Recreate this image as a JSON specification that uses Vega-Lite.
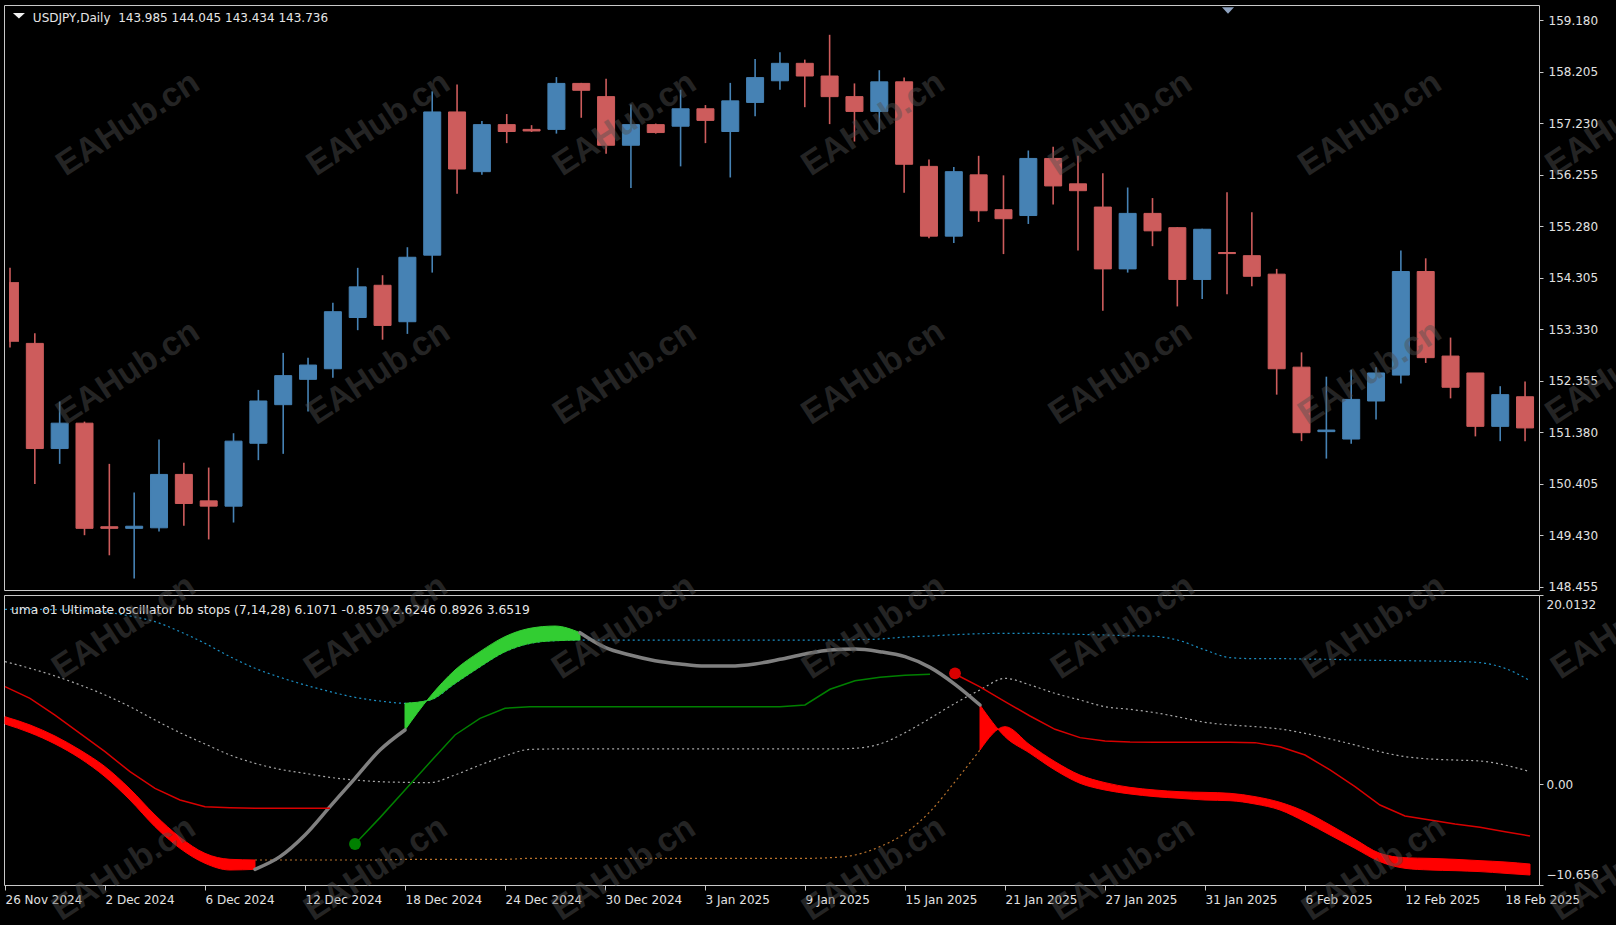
{
  "$schema": "https://vega.github.io/schema/vega-lite/v6.json",
  "background": "#000000",
  "padding": {"left": 1, "top": 4, "right": 0, "bottom": 0},
  "bounds": "flush",
  "spacing": 5,
  "datasets": {
    "candles": [
      {"i":0,"d":"2024-11-26","o":154.22,"h":154.49,"l":152.98,"c":153.09},
      {"i":1,"d":"2024-11-27","o":153.06,"h":153.25,"l":150.40,"c":151.07},
      {"i":2,"d":"2024-11-28","o":151.07,"h":151.96,"l":150.78,"c":151.55},
      {"i":3,"d":"2024-11-29","o":151.55,"h":151.58,"l":149.43,"c":149.56},
      {"i":4,"d":"2024-12-02","o":149.59,"h":150.78,"l":149.05,"c":149.56},
      {"i":5,"d":"2024-12-03","o":149.56,"h":150.24,"l":148.61,"c":149.60},
      {"i":6,"d":"2024-12-04","o":149.57,"h":151.24,"l":149.50,"c":150.58},
      {"i":7,"d":"2024-12-05","o":150.58,"h":150.80,"l":149.61,"c":150.03},
      {"i":8,"d":"2024-12-06","o":150.08,"h":150.71,"l":149.35,"c":149.98},
      {"i":9,"d":"2024-12-09","o":149.98,"h":151.36,"l":149.67,"c":151.21},
      {"i":10,"d":"2024-12-10","o":151.17,"h":152.18,"l":150.85,"c":151.97},
      {"i":11,"d":"2024-12-11","o":151.90,"h":152.88,"l":150.97,"c":152.45},
      {"i":12,"d":"2024-12-12","o":152.38,"h":152.79,"l":151.77,"c":152.65},
      {"i":13,"d":"2024-12-13","o":152.58,"h":153.83,"l":152.41,"c":153.66},
      {"i":14,"d":"2024-12-16","o":153.55,"h":154.49,"l":153.31,"c":154.13},
      {"i":15,"d":"2024-12-17","o":154.16,"h":154.35,"l":153.13,"c":153.40},
      {"i":16,"d":"2024-12-18","o":153.47,"h":154.88,"l":153.24,"c":154.69},
      {"i":17,"d":"2024-12-19","o":154.73,"h":157.83,"l":154.40,"c":157.44},
      {"i":18,"d":"2024-12-20","o":157.44,"h":157.96,"l":155.89,"c":156.36},
      {"i":19,"d":"2024-12-23","o":156.31,"h":157.27,"l":156.25,"c":157.20},
      {"i":20,"d":"2024-12-24","o":157.20,"h":157.40,"l":156.85,"c":157.07},
      {"i":21,"d":"2024-12-25","o":157.11,"h":157.19,"l":157.06,"c":157.08},
      {"i":22,"d":"2024-12-26","o":157.11,"h":158.10,"l":157.03,"c":157.98},
      {"i":23,"d":"2024-12-27","o":157.98,"h":157.99,"l":157.33,"c":157.85},
      {"i":24,"d":"2024-12-30","o":157.73,"h":158.07,"l":156.65,"c":156.81},
      {"i":25,"d":"2024-12-31","o":156.81,"h":157.58,"l":156.00,"c":157.20},
      {"i":26,"d":"2025-01-01","o":157.20,"h":157.22,"l":157.03,"c":157.05},
      {"i":27,"d":"2025-01-02","o":157.17,"h":157.86,"l":156.41,"c":157.50},
      {"i":28,"d":"2025-01-03","o":157.50,"h":157.57,"l":156.85,"c":157.28},
      {"i":29,"d":"2025-01-06","o":157.07,"h":157.99,"l":156.20,"c":157.65},
      {"i":30,"d":"2025-01-07","o":157.62,"h":158.44,"l":157.36,"c":158.09},
      {"i":31,"d":"2025-01-08","o":158.03,"h":158.57,"l":157.86,"c":158.36},
      {"i":32,"d":"2025-01-09","o":158.36,"h":158.43,"l":157.53,"c":158.12},
      {"i":33,"d":"2025-01-10","o":158.12,"h":158.90,"l":157.21,"c":157.73},
      {"i":34,"d":"2025-01-13","o":157.73,"h":157.98,"l":156.88,"c":157.45},
      {"i":35,"d":"2025-01-14","o":157.45,"h":158.23,"l":157.06,"c":158.01},
      {"i":36,"d":"2025-01-15","o":158.01,"h":158.09,"l":155.91,"c":156.45},
      {"i":37,"d":"2025-01-16","o":156.41,"h":156.54,"l":155.05,"c":155.09},
      {"i":38,"d":"2025-01-17","o":155.09,"h":156.40,"l":154.96,"c":156.31},
      {"i":39,"d":"2025-01-20","o":156.25,"h":156.61,"l":155.36,"c":155.57},
      {"i":40,"d":"2025-01-21","o":155.59,"h":156.24,"l":154.75,"c":155.42},
      {"i":41,"d":"2025-01-22","o":155.48,"h":156.71,"l":155.32,"c":156.56},
      {"i":42,"d":"2025-01-23","o":156.56,"h":156.78,"l":155.69,"c":156.04},
      {"i":43,"d":"2025-01-24","o":156.08,"h":156.61,"l":154.82,"c":155.95},
      {"i":44,"d":"2025-01-27","o":155.64,"h":156.28,"l":153.68,"c":154.47},
      {"i":45,"d":"2025-01-28","o":154.47,"h":156.01,"l":154.40,"c":155.52},
      {"i":46,"d":"2025-01-29","o":155.52,"h":155.81,"l":154.90,"c":155.19},
      {"i":47,"d":"2025-01-30","o":155.25,"h":155.26,"l":153.76,"c":154.27},
      {"i":48,"d":"2025-01-31","o":154.27,"h":155.23,"l":153.90,"c":155.22},
      {"i":49,"d":"2025-02-03","o":154.78,"h":155.92,"l":153.99,"c":154.76},
      {"i":50,"d":"2025-02-04","o":154.72,"h":155.54,"l":154.14,"c":154.33},
      {"i":51,"d":"2025-02-05","o":154.37,"h":154.47,"l":152.09,"c":152.58},
      {"i":52,"d":"2025-02-06","o":152.61,"h":152.89,"l":151.21,"c":151.37},
      {"i":53,"d":"2025-02-07","o":151.39,"h":152.43,"l":150.88,"c":151.42},
      {"i":54,"d":"2025-02-10","o":151.25,"h":152.56,"l":151.16,"c":152.00},
      {"i":55,"d":"2025-02-11","o":151.97,"h":152.61,"l":151.62,"c":152.50},
      {"i":56,"d":"2025-02-12","o":152.46,"h":154.82,"l":152.30,"c":154.42},
      {"i":57,"d":"2025-02-13","o":154.42,"h":154.67,"l":152.69,"c":152.79},
      {"i":58,"d":"2025-02-14","o":152.82,"h":153.17,"l":152.02,"c":152.23},
      {"i":59,"d":"2025-02-17","o":152.50,"h":152.50,"l":151.30,"c":151.49},
      {"i":60,"d":"2025-02-18","o":151.49,"h":152.25,"l":151.21,"c":152.09},
      {"i":61,"d":"2025-02-19","o":152.05,"h":152.34,"l":151.21,"c":151.46}
    ],
    "osc": [
      {"i":0,"m":6.37,"u":18.50,"md":12.96,"lo":7.14},
      {"i":1,"m":5.45,"u":18.50,"md":12.26,"lo":6.27},
      {"i":2,"m":4.26,"u":18.46,"md":11.45,"lo":5.10},
      {"i":3,"m":2.74,"u":18.36,"md":10.50,"lo":3.62},
      {"i":4,"m":0.80,"u":18.22,"md":9.44,"lo":1.86},
      {"i":5,"m":-1.67,"u":17.79,"md":8.20,"lo":-0.50},
      {"i":6,"m":-4.49,"u":17.19,"md":6.79,"lo":-3.25},
      {"i":7,"m":-6.78,"u":16.14,"md":5.45,"lo":-5.61},
      {"i":8,"m":-8.36,"u":14.90,"md":4.26,"lo":-7.31},
      {"i":9,"m":-9.07,"u":13.49,"md":3.09,"lo":-7.94},
      {"i":10,"m":-9.00,"u":12.26,"md":2.21,"lo":-8.01},
      {"i":11,"m":-7.66,"u":11.31,"md":1.58,"lo":-8.01},
      {"i":12,"m":-5.37,"u":10.50,"md":1.15,"lo":-8.01},
      {"i":13,"m":-2.37,"u":9.79,"md":0.73,"lo":-8.01},
      {"i":14,"m":0.63,"u":9.19,"md":0.45,"lo":-8.01},
      {"i":15,"m":3.62,"u":8.80,"md":0.27,"lo":-8.01},
      {"i":16,"m":5.74,"u":8.56,"md":0.20,"lo":-7.94},
      {"i":17,"m":9.26,"u":8.91,"md":0.17,"lo":-7.94},
      {"i":18,"m":12.08,"u":10.67,"md":0.98,"lo":-7.94},
      {"i":19,"m":14.02,"u":12.43,"md":2.03,"lo":-7.94},
      {"i":20,"m":15.61,"u":14.02,"md":2.99,"lo":-7.94},
      {"i":21,"m":16.49,"u":14.90,"md":3.69,"lo":-7.84},
      {"i":22,"m":16.73,"u":15.18,"md":3.73,"lo":-7.84},
      {"i":23,"m":16.03,"u":15.25,"md":3.73,"lo":-7.84},
      {"i":24,"m":14.48,"u":15.25,"md":3.73,"lo":-7.84},
      {"i":25,"m":13.67,"u":15.25,"md":3.73,"lo":-7.84},
      {"i":26,"m":13.07,"u":15.25,"md":3.73,"lo":-7.84},
      {"i":27,"m":12.72,"u":15.25,"md":3.73,"lo":-7.84},
      {"i":28,"m":12.50,"u":15.25,"md":3.73,"lo":-7.84},
      {"i":29,"m":12.50,"u":15.25,"md":3.73,"lo":-7.84},
      {"i":30,"m":12.72,"u":15.25,"md":3.73,"lo":-7.84},
      {"i":31,"m":13.21,"u":15.25,"md":3.73,"lo":-7.84},
      {"i":32,"m":13.77,"u":15.25,"md":3.73,"lo":-7.84},
      {"i":33,"m":14.20,"u":15.25,"md":3.73,"lo":-7.77},
      {"i":34,"m":14.30,"u":15.29,"md":3.80,"lo":-7.48},
      {"i":35,"m":14.02,"u":15.36,"md":4.26,"lo":-6.60},
      {"i":36,"m":13.49,"u":15.57,"md":5.45,"lo":-5.19},
      {"i":37,"m":12.36,"u":15.68,"md":6.97,"lo":-2.90},
      {"i":38,"m":10.57,"u":15.82,"md":8.56,"lo":0.27},
      {"i":39,"m":8.38,"u":15.92,"md":9.97,"lo":3.62},
      {"i":40,"m":5.03,"u":15.96,"md":11.20,"lo":6.09},
      {"i":41,"m":3.27,"u":15.96,"md":10.50,"lo":4.15},
      {"i":42,"m":1.50,"u":15.92,"md":9.61,"lo":2.39},
      {"i":43,"m":0.10,"u":15.85,"md":8.91,"lo":0.97},
      {"i":44,"m":-0.61,"u":15.78,"md":8.20,"lo":0.17},
      {"i":45,"m":-1.03,"u":15.71,"md":7.92,"lo":-0.33},
      {"i":46,"m":-1.31,"u":15.64,"md":7.57,"lo":-0.61},
      {"i":47,"m":-1.49,"u":15.18,"md":7.08,"lo":-0.79},
      {"i":48,"m":-1.67,"u":14.20,"md":6.55,"lo":-0.86},
      {"i":49,"m":-1.74,"u":13.39,"md":6.27,"lo":-0.96},
      {"i":50,"m":-2.09,"u":13.28,"md":6.09,"lo":-1.31},
      {"i":51,"m":-2.72,"u":13.28,"md":5.84,"lo":-1.91},
      {"i":52,"m":-3.96,"u":13.24,"md":5.38,"lo":-2.90},
      {"i":53,"m":-5.37,"u":13.21,"md":4.79,"lo":-4.31},
      {"i":54,"m":-6.78,"u":13.14,"md":4.15,"lo":-5.83},
      {"i":55,"m":-8.19,"u":13.10,"md":3.44,"lo":-7.31},
      {"i":56,"m":-8.89,"u":13.07,"md":2.92,"lo":-7.77},
      {"i":57,"m":-9.07,"u":13.03,"md":2.67,"lo":-7.84},
      {"i":58,"m":-9.14,"u":12.99,"md":2.56,"lo":-7.94},
      {"i":59,"m":-9.24,"u":12.86,"md":2.46,"lo":-8.08},
      {"i":60,"m":-9.42,"u":12.26,"md":2.03,"lo":-8.22},
      {"i":61,"m":-9.60,"u":10.95,"md":1.33,"lo":-8.44}
    ],
    "stops": [
      {"i":0,"v":10.32,"kind":"down","seg":"a"},
      {"i":1,"v":9.09,"kind":"down","seg":"a"},
      {"i":2,"v":7.32,"kind":"down","seg":"a"},
      {"i":3,"v":5.38,"kind":"down","seg":"a"},
      {"i":4,"v":3.44,"kind":"down","seg":"a"},
      {"i":5,"v":1.33,"kind":"down","seg":"a"},
      {"i":6,"v":-0.43,"kind":"down","seg":"a"},
      {"i":7,"v":-1.67,"kind":"down","seg":"a"},
      {"i":8,"v":-2.37,"kind":"down","seg":"a"},
      {"i":9,"v":-2.48,"kind":"down","seg":"a"},
      {"i":10,"v":-2.55,"kind":"down","seg":"a"},
      {"i":11,"v":-2.55,"kind":"down","seg":"a"},
      {"i":12,"v":-2.55,"kind":"down","seg":"a"},
      {"i":13,"v":-2.55,"kind":"down","seg":"a"},
      {"i":14,"v":-6.32,"kind":"up","seg":"b"},
      {"i":15,"v":-3.53,"kind":"up","seg":"b"},
      {"i":16,"v":-0.61,"kind":"up","seg":"b"},
      {"i":17,"v":2.32,"kind":"up","seg":"b"},
      {"i":18,"v":5.21,"kind":"up","seg":"b"},
      {"i":19,"v":6.97,"kind":"up","seg":"b"},
      {"i":20,"v":8.03,"kind":"up","seg":"b"},
      {"i":21,"v":8.20,"kind":"up","seg":"b"},
      {"i":22,"v":8.20,"kind":"up","seg":"b"},
      {"i":23,"v":8.20,"kind":"up","seg":"b"},
      {"i":24,"v":8.20,"kind":"up","seg":"b"},
      {"i":25,"v":8.20,"kind":"up","seg":"b"},
      {"i":26,"v":8.20,"kind":"up","seg":"b"},
      {"i":27,"v":8.20,"kind":"up","seg":"b"},
      {"i":28,"v":8.20,"kind":"up","seg":"b"},
      {"i":29,"v":8.20,"kind":"up","seg":"b"},
      {"i":30,"v":8.20,"kind":"up","seg":"b"},
      {"i":31,"v":8.20,"kind":"up","seg":"b"},
      {"i":32,"v":8.38,"kind":"up","seg":"b"},
      {"i":33,"v":10.04,"kind":"up","seg":"b"},
      {"i":34,"v":10.95,"kind":"up","seg":"b"},
      {"i":35,"v":11.31,"kind":"up","seg":"b"},
      {"i":36,"v":11.52,"kind":"up","seg":"b"},
      {"i":37,"v":11.62,"kind":"up","seg":"b"},
      {"i":38,"v":11.66,"kind":"down","seg":"c"},
      {"i":39,"v":10.30,"kind":"down","seg":"c"},
      {"i":40,"v":8.73,"kind":"down","seg":"c"},
      {"i":41,"v":7.22,"kind":"down","seg":"c"},
      {"i":42,"v":5.81,"kind":"down","seg":"c"},
      {"i":43,"v":4.93,"kind":"down","seg":"c"},
      {"i":44,"v":4.57,"kind":"down","seg":"c"},
      {"i":45,"v":4.47,"kind":"down","seg":"c"},
      {"i":46,"v":4.43,"kind":"down","seg":"c"},
      {"i":47,"v":4.43,"kind":"down","seg":"c"},
      {"i":48,"v":4.43,"kind":"down","seg":"c"},
      {"i":49,"v":4.43,"kind":"down","seg":"c"},
      {"i":50,"v":4.40,"kind":"down","seg":"c"},
      {"i":51,"v":3.97,"kind":"down","seg":"c"},
      {"i":52,"v":3.09,"kind":"down","seg":"c"},
      {"i":53,"v":1.51,"kind":"down","seg":"c"},
      {"i":54,"v":-0.26,"kind":"down","seg":"c"},
      {"i":55,"v":-2.20,"kind":"down","seg":"c"},
      {"i":56,"v":-3.36,"kind":"down","seg":"c"},
      {"i":57,"v":-3.78,"kind":"down","seg":"c"},
      {"i":58,"v":-4.21,"kind":"down","seg":"c"},
      {"i":59,"v":-4.56,"kind":"down","seg":"c"},
      {"i":60,"v":-5.02,"kind":"down","seg":"c"},
      {"i":61,"v":-5.47,"kind":"down","seg":"c"}
    ],
    "dots": [
      {"i":14,"v":-6.32,"kind":"up"},
      {"i":38,"v":11.73,"kind":"down"}
    ],
    "wmTop": [
      {"i":4.76,"p":157.21},{"i":14.84,"p":157.21},{"i":24.76,"p":157.21},{"i":34.76,"p":157.21},{"i":44.72,"p":157.21},{"i":54.76,"p":157.21},{"i":64.72,"p":157.21},
      {"i":4.76,"p":152.5},{"i":14.84,"p":152.5},{"i":24.76,"p":152.5},{"i":34.76,"p":152.5},{"i":44.72,"p":152.5},{"i":54.76,"p":152.5},{"i":64.72,"p":152.5}
    ],
    "wmBot": [
      {"i":4.76,"v":16.6},{"i":14.84,"v":16.6},{"i":24.76,"v":16.6},{"i":34.76,"v":16.6},{"i":44.72,"v":16.6},{"i":54.76,"v":16.6},{"i":64.72,"v":16.6},
      {"i":4.76,"v":-8.96},{"i":14.84,"v":-8.96},{"i":24.76,"v":-8.96},{"i":34.76,"v":-8.96},{"i":44.72,"v":-8.96},{"i":54.76,"v":-8.96},{"i":64.72,"v":-8.96}
    ]
  },
  "vconcat": [
    {
      "width": 1535,
      "height": 585,
      "layer": [
        {
          "data": {"name": "candles"},
          "mark": {"type": "rule", "strokeWidth": 1.6},
          "encoding": {
            "x": {"field": "i", "type": "quantitative", "title": null, "scale": {"domain": [-0.04, 61.36], "nice": false, "zero": false},
                  "axis": {"labels": false, "ticks": false, "domain": false, "grid": false, "title": null}},
            "y": {"field": "l", "type": "quantitative", "title": null, "scale": {"domain": [148.393, 159.464], "nice": false, "zero": false},
                  "axis": {"orient": "right", "values": [148.455, 149.43, 150.405, 151.38, 152.355, 153.33, 154.305, 155.28, 156.255, 157.23, 158.205, 159.18], "format": ".3f", "title": null, "grid": false, "domain": false, "tickSize": 4, "tickColor": "#c8c8c8", "labelPadding": 5, "labelColor": "#e2e2e2", "labelFont": "DejaVu Sans", "labelFontSize": 12}},
            "y2": {"field": "h"},
            "color": {"condition": {"test": "datum.c < datum.o", "value": "#CD5C5C"}, "value": "#4682B4"}
          }
        },
        {
          "data": {"name": "candles"},
          "transform": [{"filter": {"field": "i", "gte": 1}}],
          "mark": {"type": "bar", "size": 17, "strokeWidth": 1},
          "encoding": {
            "x": {"field": "i", "type": "quantitative", "title": null, "scale": {"domain": [-0.04, 61.36], "nice": false, "zero": false}},
            "y": {"field": "o", "type": "quantitative", "title": null, "scale": {"domain": [148.393, 159.464], "nice": false, "zero": false}},
            "y2": {"field": "c"},
            "color": {"condition": {"test": "datum.c < datum.o", "value": "#CD5C5C"}, "value": "#4682B4"},
            "stroke": {"condition": {"test": "datum.c < datum.o", "value": "#CD5C5C"}, "value": "#4682B4"}
          }
        },
        {
          "data": {"name": "candles"},
          "transform": [{"filter": {"field": "i", "lt": 1}}],
          "mark": {"type": "bar", "color": "#CD5C5C"},
          "encoding": {
            "x": {"datum": -0.04, "type": "quantitative", "title": null, "scale": {"domain": [-0.04, 61.36], "nice": false, "zero": false}},
            "x2": {"datum": 0.36},
            "y": {"field": "o", "type": "quantitative", "title": null, "scale": {"domain": [148.393, 159.464], "nice": false, "zero": false}},
            "y2": {"field": "c"}
          }
        },
        {
          "data": {"values": [{}]},
          "mark": {"type": "point", "filled": true, "shape": "M-1,-0.45L1,-0.45L0,0.45Z", "size": 144, "color": "#f0f0f0", "opacity": 1},
          "encoding": {
            "x": {"datum": 0.36, "type": "quantitative", "title": null, "scale": {"domain": [-0.04, 61.36], "nice": false, "zero": false}},
            "y": {"datum": 159.26, "type": "quantitative", "title": null, "scale": {"domain": [148.393, 159.464], "nice": false, "zero": false}}
          }
        },
        {
          "data": {"values": [{}]},
          "mark": {"type": "text", "text": "USDJPY,Daily\u00a0 143.985 144.045 143.434 143.736", "align": "left", "baseline": "middle", "font": "DejaVu Sans", "fontSize": 12, "color": "#e6e6e6"},
          "encoding": {
            "x": {"datum": 0.92, "type": "quantitative", "title": null, "scale": {"domain": [-0.04, 61.36], "nice": false, "zero": false}},
            "y": {"datum": 159.218, "type": "quantitative", "title": null, "scale": {"domain": [148.393, 159.464], "nice": false, "zero": false}}
          }
        },
        {
          "data": {"values": [{}]},
          "mark": {"type": "point", "filled": true, "shape": "M-1,-0.55L1,-0.55L0,0.55Z", "size": 144, "color": "#8ea2bf", "opacity": 1},
          "encoding": {
            "x": {"datum": 49.04, "type": "quantitative", "title": null, "scale": {"domain": [-0.04, 61.36], "nice": false, "zero": false}},
            "y": {"datum": 159.36, "type": "quantitative", "title": null, "scale": {"domain": [148.393, 159.464], "nice": false, "zero": false}}
          }
        },
        {
          "data": {"name": "wmTop"},
          "mark": {"type": "text", "text": "EAHub.cn", "align": "center", "baseline": "middle", "angle": -33, "font": "Liberation Sans", "fontWeight": "bold", "fontSize": 34, "color": "#505050", "opacity": 0.45},
          "encoding": {
            "x": {"field": "i", "type": "quantitative", "title": null, "scale": {"domain": [-0.04, 61.36], "nice": false, "zero": false}},
            "y": {"field": "p", "type": "quantitative", "title": null, "scale": {"domain": [148.393, 159.464], "nice": false, "zero": false}}
          }
        }
      ]
    },
    {
      "width": 1535,
      "height": 290,
      "layer": [
        {
          "data": {"name": "osc"},
          "mark": {"type": "line", "color": "#1b8fc4", "strokeWidth": 1.2, "strokeDash": [2, 3], "interpolate": "monotone"},
          "encoding": {
            "x": {"field": "i", "type": "quantitative", "title": null, "scale": {"domain": [-0.04, 61.36], "nice": false, "zero": false},
                  "axis": {"orient": "bottom", "values": [0,4,8,12,16,20,24,28,32,36,40,44,48,52,56,60], "labelExpr": "['26 Nov 2024','2 Dec 2024','6 Dec 2024','12 Dec 2024','18 Dec 2024','24 Dec 2024','30 Dec 2024','3 Jan 2025','9 Jan 2025','15 Jan 2025','21 Jan 2025','27 Jan 2025','31 Jan 2025','6 Feb 2025','12 Feb 2025','18 Feb 2025'][datum.value/4]", "labelAlign": "left", "labelBaseline": "top", "labelPadding": 4, "labelDx": 0, "labelOverlap": false, "labelFlush": false, "title": null, "grid": false, "domain": false, "tickSize": 5, "tickColor": "#c8c8c8", "labelColor": "#e2e2e2", "labelFont": "DejaVu Sans", "labelFontSize": 12}},
            "y": {"field": "u", "type": "quantitative", "title": null, "scale": {"domain": [-10.656, 20.0132], "nice": false, "zero": false},
                  "axis": {"orient": "right", "values": [-10.656, 0, 20.0132], "labelExpr": "datum.value === 0 ? '0.00' : format(datum.value, '.4~f')", "labelFlush": true, "labelFlushOffset": -4, "title": null, "grid": false, "domain": false, "tickSize": 4, "tickColor": "#c8c8c8", "labelPadding": 3, "labelColor": "#e2e2e2", "labelFont": "DejaVu Sans", "labelFontSize": 12}}
          }
        },
        {
          "data": {"name": "osc"},
          "mark": {"type": "line", "color": "#a8a8a8", "strokeWidth": 1.2, "strokeDash": [2, 3], "interpolate": "monotone"},
          "encoding": {
            "x": {"field": "i", "type": "quantitative", "title": null, "scale": {"domain": [-0.04, 61.36], "nice": false, "zero": false}},
            "y": {"field": "md", "type": "quantitative", "title": null, "scale": {"domain": [-10.656, 20.0132], "nice": false, "zero": false}}
          }
        },
        {
          "data": {"name": "osc"},
          "transform": [{"filter": {"field": "i", "range": [10, 39]}}],
          "mark": {"type": "line", "color": "#b8722c", "strokeWidth": 1.2, "strokeDash": [2, 3], "interpolate": "monotone"},
          "encoding": {
            "x": {"field": "i", "type": "quantitative", "title": null, "scale": {"domain": [-0.04, 61.36], "nice": false, "zero": false}},
            "y": {"field": "lo", "type": "quantitative", "title": null, "scale": {"domain": [-10.656, 20.0132], "nice": false, "zero": false}}
          }
        },
        {
          "data": {"name": "osc"},
          "transform": [{"filter": {"field": "i", "range": [0, 10]}}],
          "mark": {"type": "area", "color": "#ff0000", "stroke": "#ff0000", "strokeWidth": 1, "interpolate": "monotone", "opacity": 1},
          "encoding": {
            "x": {"field": "i", "type": "quantitative", "title": null, "scale": {"domain": [-0.04, 61.36], "nice": false, "zero": false}},
            "y": {"field": "m", "type": "quantitative", "title": null, "scale": {"domain": [-10.656, 20.0132], "nice": false, "zero": false}},
            "y2": {"field": "lo"}
          }
        },
        {
          "data": {"name": "osc"},
          "transform": [{"filter": {"field": "i", "range": [39, 61]}}],
          "mark": {"type": "area", "color": "#ff0000", "stroke": "#ff0000", "strokeWidth": 1, "interpolate": "monotone", "opacity": 1},
          "encoding": {
            "x": {"field": "i", "type": "quantitative", "title": null, "scale": {"domain": [-0.04, 61.36], "nice": false, "zero": false}},
            "y": {"field": "m", "type": "quantitative", "title": null, "scale": {"domain": [-10.656, 20.0132], "nice": false, "zero": false}},
            "y2": {"field": "lo"}
          }
        },
        {
          "data": {"name": "osc"},
          "transform": [{"filter": {"field": "i", "range": [16, 23]}}],
          "mark": {"type": "area", "color": "#32cd32", "stroke": "#32cd32", "strokeWidth": 1, "interpolate": "monotone", "opacity": 1},
          "encoding": {
            "x": {"field": "i", "type": "quantitative", "title": null, "scale": {"domain": [-0.04, 61.36], "nice": false, "zero": false}},
            "y": {"field": "m", "type": "quantitative", "title": null, "scale": {"domain": [-10.656, 20.0132], "nice": false, "zero": false}},
            "y2": {"field": "u"}
          }
        },
        {
          "data": {"name": "osc"},
          "transform": [{"filter": {"field": "i", "range": [10, 16]}}],
          "mark": {"type": "line", "color": "#808080", "strokeWidth": 3.5, "strokeCap": "round", "interpolate": "monotone"},
          "encoding": {
            "x": {"field": "i", "type": "quantitative", "title": null, "scale": {"domain": [-0.04, 61.36], "nice": false, "zero": false}},
            "y": {"field": "m", "type": "quantitative", "title": null, "scale": {"domain": [-10.656, 20.0132], "nice": false, "zero": false}}
          }
        },
        {
          "data": {"name": "osc"},
          "transform": [{"filter": {"field": "i", "range": [23, 39]}}],
          "mark": {"type": "line", "color": "#808080", "strokeWidth": 3.5, "strokeCap": "round", "interpolate": "monotone"},
          "encoding": {
            "x": {"field": "i", "type": "quantitative", "title": null, "scale": {"domain": [-0.04, 61.36], "nice": false, "zero": false}},
            "y": {"field": "m", "type": "quantitative", "title": null, "scale": {"domain": [-10.656, 20.0132], "nice": false, "zero": false}}
          }
        },
        {
          "data": {"name": "stops"},
          "mark": {"type": "line", "strokeWidth": 1.5},
          "encoding": {
            "x": {"field": "i", "type": "quantitative", "title": null, "scale": {"domain": [-0.04, 61.36], "nice": false, "zero": false}},
            "y": {"field": "v", "type": "quantitative", "title": null, "scale": {"domain": [-10.656, 20.0132], "nice": false, "zero": false}},
            "detail": {"field": "seg"},
            "color": {"field": "kind", "type": "nominal", "scale": {"domain": ["up", "down"], "range": ["#008000", "#d80000"]}, "legend": null}
          }
        },
        {
          "data": {"name": "dots"},
          "mark": {"type": "point", "filled": true, "shape": "circle", "size": 140, "opacity": 1},
          "encoding": {
            "x": {"field": "i", "type": "quantitative", "title": null, "scale": {"domain": [-0.04, 61.36], "nice": false, "zero": false}},
            "y": {"field": "v", "type": "quantitative", "title": null, "scale": {"domain": [-10.656, 20.0132], "nice": false, "zero": false}},
            "color": {"field": "kind", "type": "nominal", "scale": {"domain": ["up", "down"], "range": ["#008000", "#ff0000"]}, "legend": null}
          }
        },
        {
          "data": {"values": [{}]},
          "mark": {"type": "text", "text": "uma o1 Ultimate oscillator bb stops (7,14,28) 6.1071 -0.8579 2.6246 0.8926 3.6519", "align": "left", "baseline": "middle", "font": "DejaVu Sans", "fontSize": 12.3, "color": "#e6e6e6"},
          "encoding": {
            "x": {"datum": 0.24, "type": "quantitative", "title": null, "scale": {"domain": [-0.04, 61.36], "nice": false, "zero": false}},
            "y": {"datum": 18.43, "type": "quantitative", "title": null, "scale": {"domain": [-10.656, 20.0132], "nice": false, "zero": false}}
          }
        },
        {
          "data": {"name": "wmBot"},
          "mark": {"type": "text", "text": "EAHub.cn", "align": "center", "baseline": "middle", "angle": -33, "font": "Liberation Sans", "fontWeight": "bold", "fontSize": 34, "color": "#505050", "opacity": 0.45},
          "encoding": {
            "x": {"field": "i", "type": "quantitative", "title": null, "scale": {"domain": [-0.04, 61.36], "nice": false, "zero": false}},
            "y": {"field": "v", "type": "quantitative", "title": null, "scale": {"domain": [-10.656, 20.0132], "nice": false, "zero": false}}
          }
        }
      ]
    }
  ],
  "config": {
    "view": {"stroke": "#c8c8c8", "strokeWidth": 1},
    "axis": {"grid": false, "domain": false, "labelColor": "#e2e2e2", "tickColor": "#c8c8c8"}
  }
}
